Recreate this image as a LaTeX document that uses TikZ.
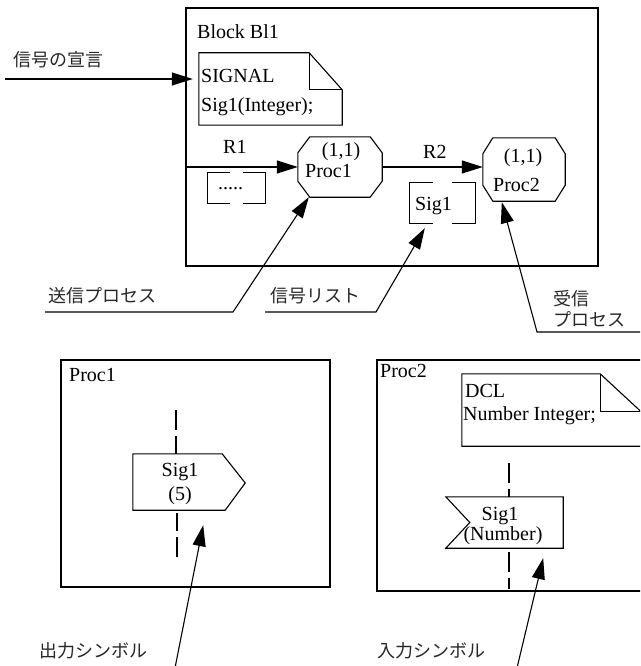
\documentclass[tikz,border=0pt]{standalone}
\usepackage{fontspec}
\setmainfont{Liberation Serif}
\newfontfamily\jpfont{Noto Sans CJK JP}
\usetikzlibrary{arrows.meta,calc}

\tikzset{
  ln/.style={line width=1.1pt, line join=miter},
  arr/.style={ln, -{Triangle[length=21pt,width=13pt]}},
  dsh/.style={ln, dash pattern=on 20pt off 6pt},
  frame/.style={draw, line width=1.1pt, inner sep=0pt},
  area/.style={draw=none, inner sep=0pt},
  txt/.style={inner sep=0pt, anchor=base west, font=\fontsize{20}{24}\selectfont},
  ctxt/.style={txt, anchor=base},
  jp/.style={inner sep=0pt, anchor=base west, font=\jpfont\fontsize{18}{22}\selectfont, text=black!85},
}

% octagonal process symbol drawn round a node: #1 node, #2 x cut, #3 y cut
\newcommand{\procoutline}[3]{%
  \draw[ln] ([xshift=#2]#1.north west) -- ([xshift=-#2]#1.north east)
    -- ([yshift=-#3]#1.north east) -- ([yshift=#3]#1.south east)
    -- ([xshift=-#2]#1.south east) -- ([xshift=#2]#1.south west)
    -- ([yshift=#3]#1.south west) -- ([yshift=-#3]#1.north west) -- cycle;}

% signal list bracket box: #1 node, #2 length of each top/bottom piece
\newcommand{\bracketbox}[2]{%
  \draw[ln] ([xshift=#2]#1.north west) -- (#1.north west) -- (#1.south west) -- ([xshift=#2]#1.south west);
  \draw[ln] ([xshift=-#2]#1.north east) -- (#1.north east) -- (#1.south east) -- ([xshift=-#2]#1.south east);}

\begin{document}
\begin{tikzpicture}[x=1pt,y=-1pt]
\useasboundingbox (0,0) rectangle (640,666);
\clip (0,0) rectangle (640,666);

% ---------- block diagram ----------
\node[frame, minimum width=412pt, minimum height=258pt] (bl1) at (392,137) {};
\node[txt] (bl1name) at (197,39) {Block Bl1};

% text symbol with the signal declaration
\node[area, minimum width=143pt, minimum height=72pt] (sigdecl) at (270.5,89) {};
\draw[ln] (sigdecl.north west) -- ([xshift=-33pt]sigdecl.north east)
  -- ([yshift=-37pt]sigdecl.north east) -- (sigdecl.south east)
  -- (sigdecl.south west) -- cycle;
\draw[ln] ([xshift=-33pt]sigdecl.north east) -- ([xshift=-33pt,yshift=-37pt]sigdecl.north east)
  -- ([yshift=-37pt]sigdecl.north east);
\node[txt] (sd1) at (201,83) {SIGNAL};
\node[txt] (sd2) at (201,111) {Sig1(Integer);};

\node[jp] (decllbl) at (13,67) {信号の宣言};
\coordinate (declstart) at (5,79);
\draw[arr, shorten >=6pt] (declstart) -- (declstart -| sigdecl.west);

% processes
\node[area, minimum width=84pt, minimum height=60pt] (p1) at (340,167) {};
\procoutline{p1}{12pt}{16pt}
\node[ctxt] (p1inst) at (341,156) {(1,1)};
\node[txt] (p1name) at (305,177) {Proc1};

\node[area, minimum width=82pt, minimum height=63pt] (p2) at (524,169.5) {};
\procoutline{p2}{10pt}{16pt}
\node[ctxt] (p2inst) at (523,162) {(1,1)};
\node[txt] (p2name) at (493,191) {Proc2};

% signal routes
\draw[arr] (bl1.west |- p1.west) -- (p1.west);
\node[txt] (r1) at (223,153) {R1};
\node[area, minimum width=57pt, minimum height=30pt] (sl1) at (236.5,188) {};
\bracketbox{sl1}{22pt}
\node[txt] (sl1dots) at (218,189) {.....};

\draw[arr] (p1.east) -- (p1.east -| p2.west);
\node[txt] (r2) at (423,158) {R2};
\node[area, minimum width=65pt, minimum height=40pt] (sl2) at (442.5,203) {};
\bracketbox{sl2}{23pt}
\node[txt] (sl2sig) at (415,210) {Sig1};

% callouts
\node[jp] (sendlbl) at (48,302) {送信プロセス};
\coordinate (sendu) at (45,312);
\coordinate (sendk) at (233,312);
\draw[arr] (sendu) -- (sendk) -- ([xshift=11pt]p1.south west);

\node[jp] (listlbl) at (270,302) {信号リスト};
\coordinate (listu) at (265,312);
\coordinate (listk) at (376,312);
\draw[arr] (listu) -- (listk) -- ([xshift=15pt,yshift=-5pt]sl2.south west);

\node[jp] (recvlbl1) at (553,305) {受信};
\node[jp] (recvlbl2) at (553,326) {プロセス};
\coordinate (recvu) at (645,332);
\coordinate (recvk) at (537,332);
\draw[arr] (recvu) -- (recvk) -- ([xshift=19pt,yshift=-1pt]p2.south west);

% ---------- Proc1 diagram ----------
\node[frame, minimum width=269pt, minimum height=227pt] (proc1) at (195.5,473.5) {};
\node[txt] (proc1name) at (69,381) {Proc1};

\node[area, minimum width=112pt, minimum height=56pt] (out) at (189,482) {};
\draw[ln] (out.north west) -- ([xshift=-23pt]out.north east) -- ([yshift=-1pt]out.east)
  -- ([xshift=-20pt]out.south east) -- (out.south west) -- cycle;
\node[ctxt] (outsig) at (180,476) {Sig1};
\node[ctxt] (outarg) at (180,500) {(5)};

\coordinate (outtop) at (176,410);
\draw[dsh] (outtop) -- (outtop |- out.north);
\coordinate (outbot) at (177,557);
\draw[dsh, shorten >=3pt] (outbot) -- (outbot |- out.south);

\node[jp] (outlbl) at (39,657) {出力シンボル};
\coordinate (outfoot) at (175,668);
\draw[arr] (outfoot) -- ([xshift=-42pt,yshift=-15pt]out.south east);

% ---------- Proc2 diagram ----------
\node[frame, minimum width=268pt, minimum height=231pt] (proc2) at (511,475.5) {};
\node[txt] (proc2name) at (380,377) {Proc2};

\node[area, minimum width=179pt, minimum height=72pt] (dcl) at (551.5,410) {};
\draw[ln] (dcl.north west) -- ([xshift=-41pt]dcl.north east)
  -- ([yshift=-38pt]dcl.north east) -- (dcl.south east)
  -- (dcl.south west) -- cycle;
\draw[ln] ([xshift=-41pt]dcl.north east) -- ([xshift=-41pt,yshift=-38pt]dcl.north east)
  -- ([yshift=-38pt]dcl.north east);
\node[txt] (dcl1) at (465,397) {DCL};
\node[txt] (dcl2) at (463,420) {Number Integer;};

\node[area, minimum width=117pt, minimum height=51pt] (in) at (504.5,522.5) {};
\draw[ln] (in.north west) -- (in.north east) -- (in.south east) -- (in.south west)
  -- ([xshift=24pt]in.west) -- cycle;
\node[ctxt] (insig) at (500,520) {Sig1};
\node[ctxt] (inarg) at (503,540) {(Number)};

\coordinate (intop) at (509,463);
\draw[dsh] (intop) -- (intop |- in.north);
\coordinate (inbot) at (509,589);
\draw[dsh, shorten <=4pt] (inbot |- in.south) -- (inbot);

\node[jp] (inlbl) at (377,657) {入力シンボル};
\coordinate (infoot) at (517,668);
\draw[arr] (infoot) -- ([xshift=-20pt,yshift=-10pt]in.south east);
\end{tikzpicture}
\end{document}
